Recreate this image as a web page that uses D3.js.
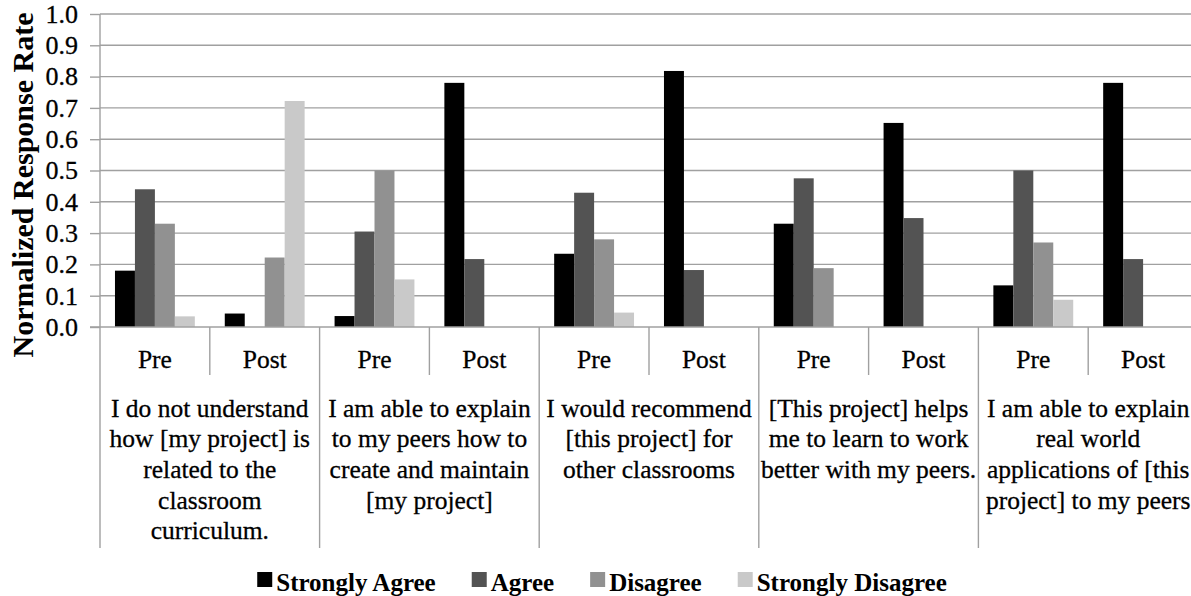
<!DOCTYPE html>
<html>
<head>
<meta charset="utf-8">
<script src="https://cdn.jsdelivr.net/npm/d3@7"></script>
<style>
  html, body { margin: 0; padding: 0; background: #fff; }
  svg { display: block; }
  text { font-family: "Liberation Serif", "Times New Roman", "DejaVu Serif", serif; fill: #000; }
  text.plain { stroke: #000; stroke-width: 0.3px; }
</style>
</head>
<body>
<svg id="chart" width="1191" height="596"></svg>
<script>
// Survey statements (wrapped as they appear under the axis)
const questions = [
  ["I do not understand", "how [my project] is", "related to the", "classroom", "curriculum."],
  ["I am able to explain", "to my peers how to", "create and maintain", "[my project]"],
  ["I would recommend", "[this project] for", "other classrooms"],
  ["[This project] helps", "me to learn to work", "better with my peers."],
  ["I am able to explain", "real world", "applications of [this", "project] to my peers"]
];
const phases = ["Pre", "Post"];
const seriesNames = ["Strongly Agree", "Agree", "Disagree", "Strongly Disagree"];
const seriesColors = ["#000000", "#535353", "#919191", "#c9c9c9"];

// One value per statement/phase pair: Q1 Pre, Q1 Post, Q2 Pre, Q2 Post, ...
const stronglyAgree    = [0.18, 0.043, 0.035, 0.78, 0.234, 0.818, 0.33, 0.652, 0.133, 0.78];
const agree            = [0.44, 0, 0.305, 0.217, 0.429, 0.182, 0.475, 0.348, 0.50, 0.217];
const disagree         = [0.33, 0.222, 0.50, 0, 0.28, 0, 0.188, 0, 0.27, 0];
const stronglyDisagree = [0.034, 0.722, 0.152, 0, 0.046, 0, 0, 0, 0.087, 0];
const yTicks = [0, 0.1, 0.2, 0.3, 0.4, 0.5, 0.6, 0.7, 0.8, 0.9, 1.0];
const yTitle = "Normalized Response Rate";

const seriesValues = [stronglyAgree, agree, disagree, stronglyDisagree];

(function draw() {
  const svg = d3.select("#chart");
  const plotLeft = 100, plotRight = 1198, plotTop = 14, plotBottom = 327;
  const phaseLineBottom = 375, groupLineBottom = 548;
  const gridColor = "#a0a0a0";
  const labelFont = '"Liberation Serif", "Times New Roman", "DejaVu Serif", serif';

  // Slot keys: one per statement/phase
  const slots = [];
  questions.forEach((q, qi) => phases.forEach((p, pi) => slots.push({ qi, pi, key: qi + "-" + pi, phase: p })));

  const xSlot = d3.scaleBand().domain(slots.map(s => s.key)).range([plotLeft, plotRight]).padding(0);
  // Bars fill each slot minus a 150% gap, split on both sides
  const barW = xSlot.bandwidth() / 5.5;
  const x1 = d3.scaleBand().domain(seriesNames).range([0.75 * barW, 4.75 * barW]).padding(0);
  const y = d3.scaleLinear().domain([0, 1]).range([plotBottom, plotTop]);

  // Horizontal gridlines
  svg.append("g").selectAll("line").data(yTicks.filter(t => t > 0)).join("line")
    .attr("x1", plotLeft).attr("x2", plotRight)
    .attr("y1", d => y(d)).attr("y2", d => y(d))
    .attr("stroke", gridColor).attr("stroke-width", 1.4);

  // Bars
  const barsG = svg.append("g");
  seriesNames.forEach((name, si) => {
    barsG.append("g").selectAll("rect")
      .data(slots.map((s, i) => ({ s, v: seriesValues[si][i] })).filter(d => d.v > 0))
      .join("rect")
      .attr("x", d => xSlot(d.s.key) + x1(name))
      .attr("width", x1.bandwidth())
      .attr("y", d => y(d.v))
      .attr("height", d => y(0) - y(d.v))
      .attr("fill", seriesColors[si]);
  });

  // Y axis
  const yAxis = d3.axisLeft(y).tickValues(yTicks).tickFormat(d3.format(".1f")).tickSize(10).tickPadding(12);
  const yg = svg.append("g").attr("transform", `translate(${plotLeft},0)`).call(yAxis);
  yg.select(".domain").remove();
  yg.selectAll(".tick line").attr("stroke", gridColor).attr("stroke-width", 1.4);
  yg.selectAll(".tick text").attr("class", "plain").attr("font-size", 26)
    .attr("font-family", labelFont).attr("fill", "#000");
  svg.append("line").attr("x1", plotLeft).attr("x2", plotLeft).attr("y1", plotTop).attr("y2", groupLineBottom)
    .attr("stroke", gridColor).attr("stroke-width", 1.4);

  // Category axis baseline
  svg.append("line").attr("x1", plotLeft - 10).attr("x2", plotRight).attr("y1", plotBottom).attr("y2", plotBottom)
    .attr("stroke", gridColor).attr("stroke-width", 1.4);

  // Separators between phases and between statements
  const seps = d3.range(1, slots.length + 1).map(i => ({ x: plotLeft + i * xSlot.bandwidth(), group: i % 2 === 0 }));
  svg.append("g").selectAll("line").data(seps).join("line")
    .attr("x1", d => d.x).attr("x2", d => d.x)
    .attr("y1", plotBottom).attr("y2", d => d.group ? groupLineBottom : phaseLineBottom)
    .attr("stroke", gridColor).attr("stroke-width", 1.4);

  // Phase labels
  svg.append("g").selectAll("text").data(slots).join("text")
    .attr("class", "plain")
    .attr("x", d => xSlot(d.key) + xSlot.bandwidth() / 2)
    .attr("y", 368)
    .attr("text-anchor", "middle").attr("font-size", 25.5)
    .text(d => d.phase);

  // Statement labels
  const qg = svg.append("g").selectAll("text").data(questions).join("text")
    .attr("class", "plain")
    .attr("text-anchor", "middle").attr("font-size", 25.5)
    .attr("transform", (d, i) => `translate(${plotLeft + (2 * i + 1) * xSlot.bandwidth()},416.5)`);
  qg.selectAll("tspan").data(d => d).join("tspan")
    .attr("x", 0).attr("y", (d, i) => i * 30.7).text(d => d);

  // Y axis title
  svg.append("text")
    .attr("transform", "translate(33,185) rotate(-90)")
    .attr("text-anchor", "middle").attr("font-size", 30).attr("font-weight", "bold")
    .text(yTitle);

  // Legend
  const legend = svg.append("g");
  const items = legend.selectAll("g").data(seriesNames).join("g");
  items.append("rect").attr("width", 15).attr("height", 15).attr("y", -19)
    .attr("fill", (d, i) => seriesColors[i]);
  items.append("text").attr("x", 19).attr("font-size", 25).attr("font-weight", "bold").text(d => d);
  let cursor = 0;
  items.each(function () {
    const w = 19 + this.querySelector("text").getComputedTextLength();
    d3.select(this).attr("transform", `translate(${cursor},0)`);
    cursor += w + 36;
  });
  const legendW = cursor - 36;
  legend.attr("transform", `translate(${602 - legendW / 2},591)`);
})();
</script>
</body>
</html>
